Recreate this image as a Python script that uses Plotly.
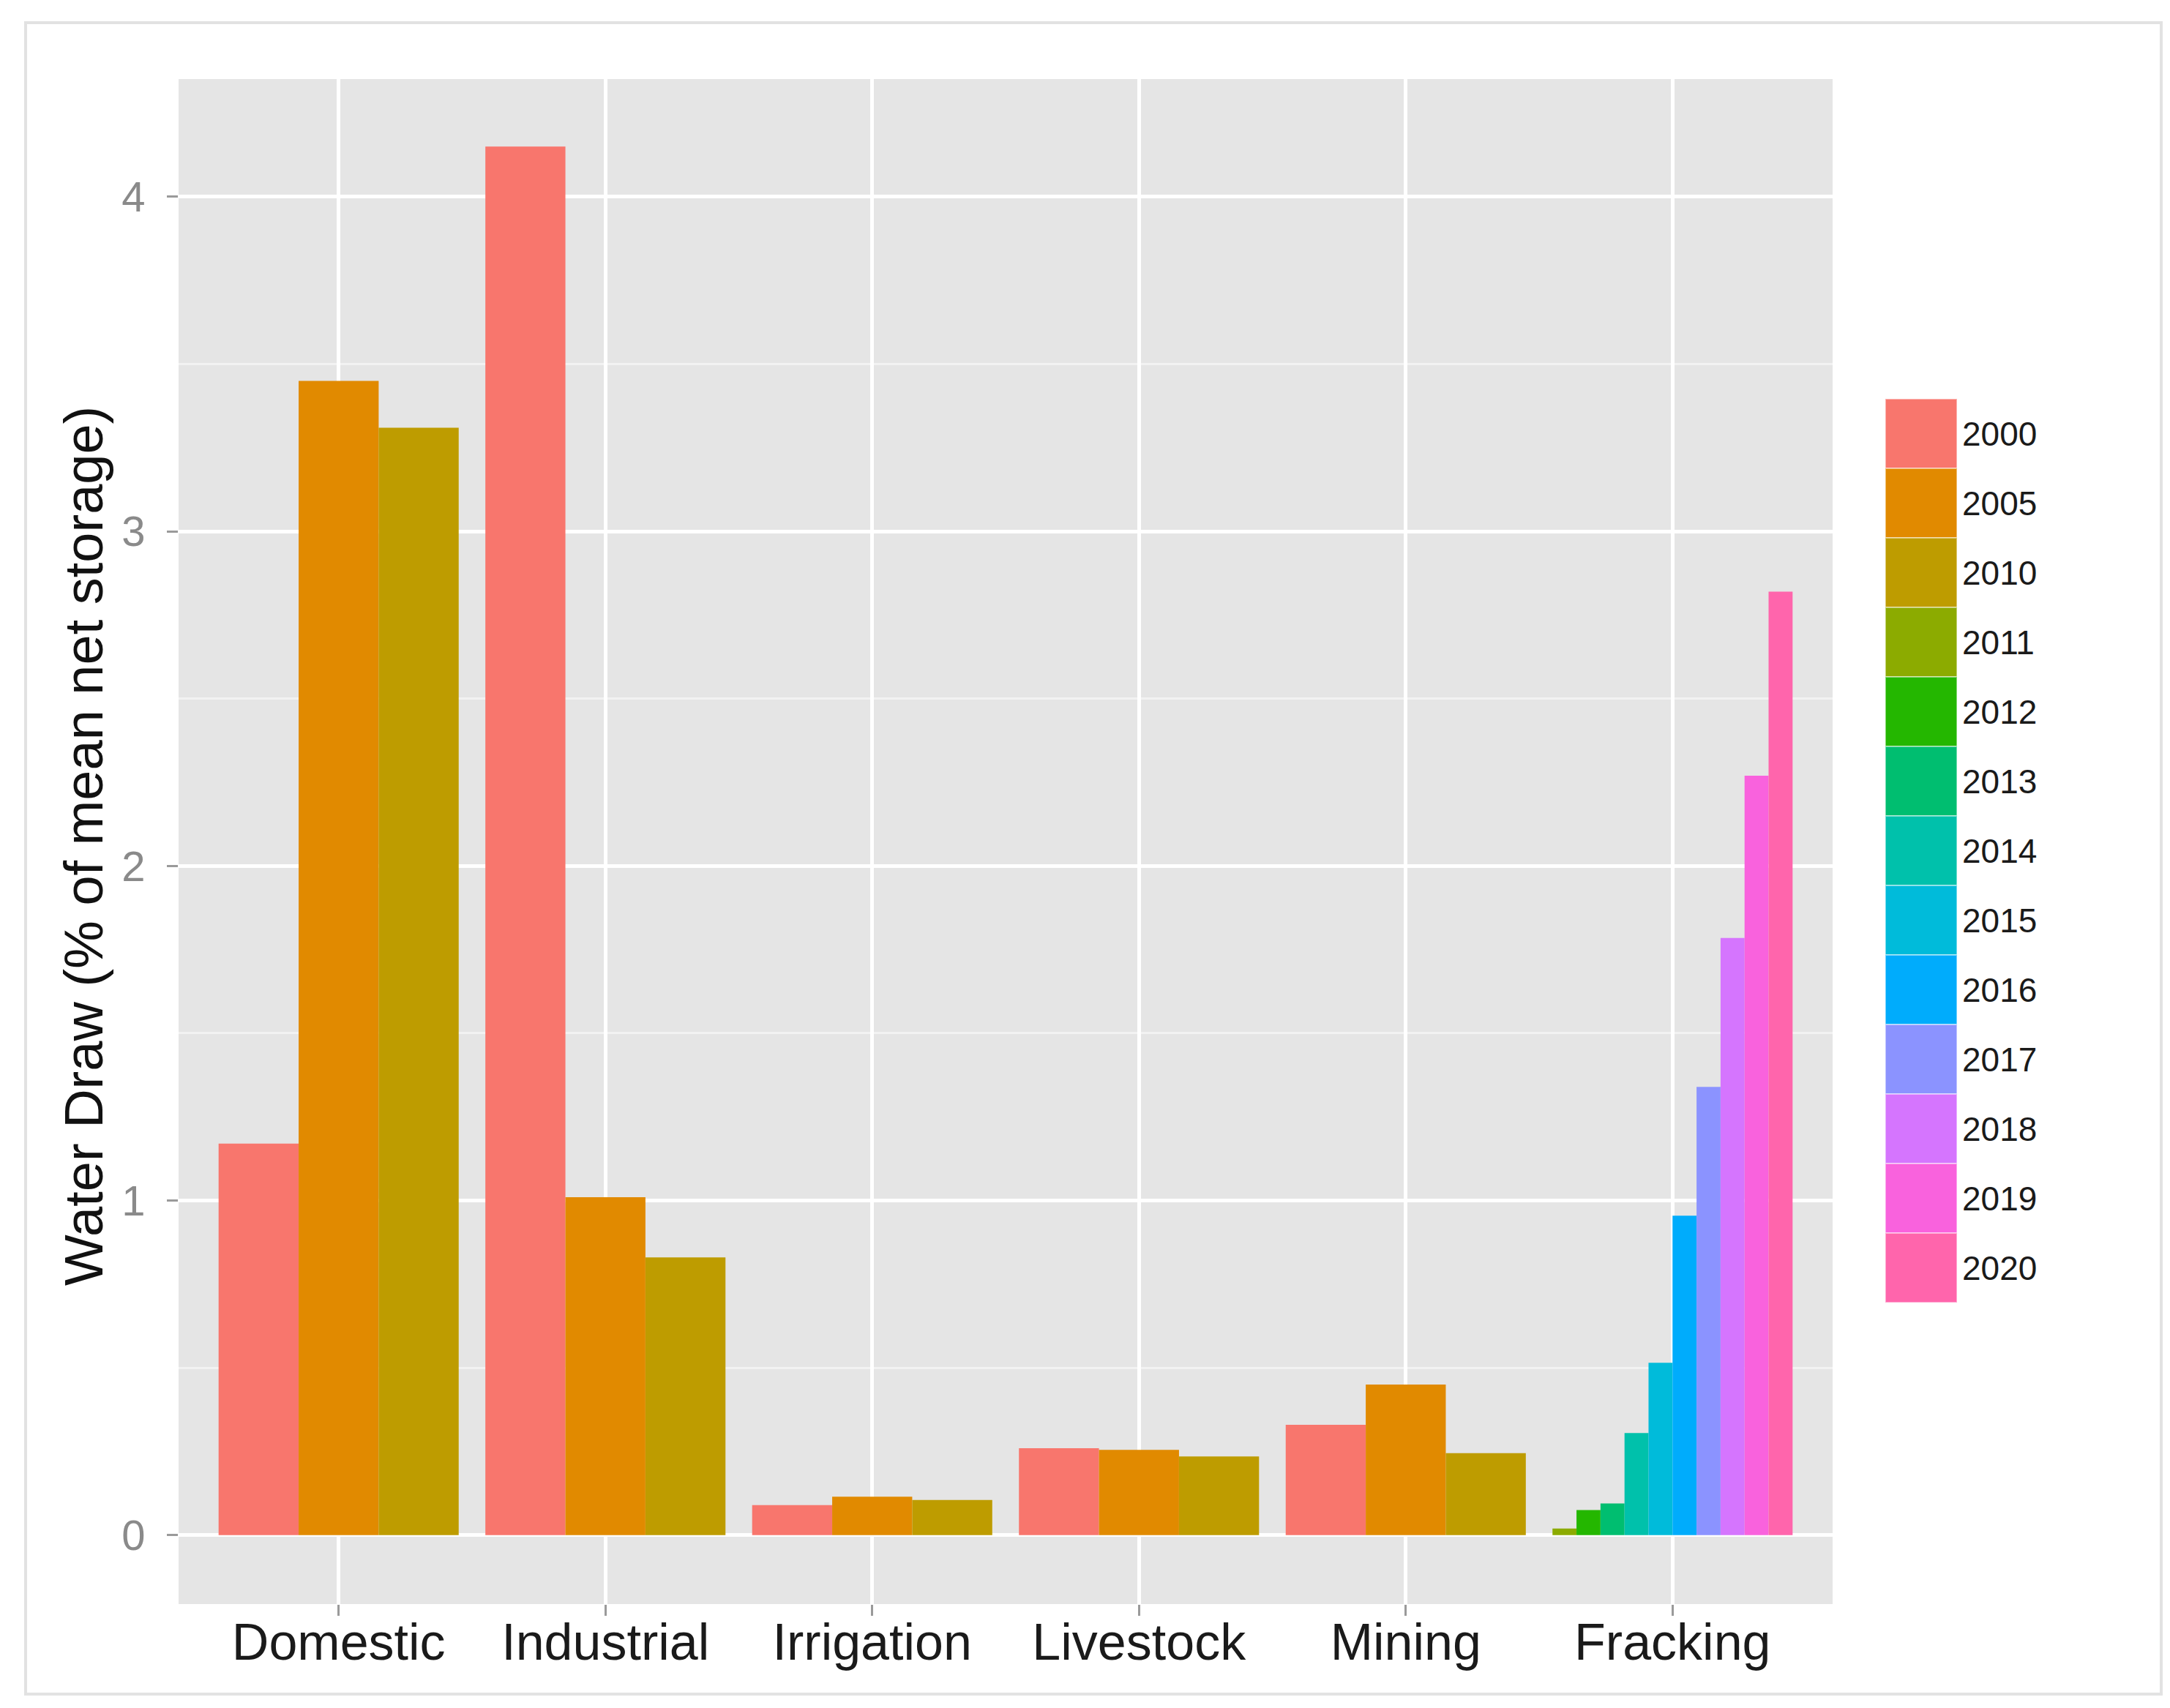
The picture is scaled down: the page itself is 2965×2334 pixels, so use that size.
import plotly.graph_objects as go

categories = ["Domestic", "Industrial", "Irrigation", "Livestock", "Mining", "Fracking"]
years = ["2000", "2005", "2010", "2011", "2012", "2013", "2014",
         "2015", "2016", "2017", "2018", "2019", "2020"]

# values for 2000, 2005, 2010
survey_years = ["2000", "2005", "2010"]
domestic = [1.17, 3.45, 3.31]
industrial = [4.15, 1.01, 0.83]
irrigation = [0.09, 0.115, 0.105]
livestock = [0.26, 0.255, 0.235]
mining = [0.33, 0.45, 0.245]

# fracking, yearly from 2011
fracking_years = ["2011", "2012", "2013", "2014", "2015",
                  "2016", "2017", "2018", "2019", "2020"]
fracking = [0.02, 0.075, 0.095, 0.305, 0.515, 0.955, 1.34, 1.785, 2.27, 2.82]

y_ticks = [0, 1, 2, 3, 4]

# ggplot default hue palette, 13 levels
colors = ["#F8766D", "#E18A00", "#BE9C00", "#8CAB00", "#24B700", "#00BE70", "#00C1AB",
          "#00BBDA", "#00ACFC", "#8B93FF", "#D575FE", "#F962DD", "#FF65AC"]

groups = {
    "Domestic": (survey_years, domestic),
    "Industrial": (survey_years, industrial),
    "Irrigation": (survey_years, irrigation),
    "Livestock": (survey_years, livestock),
    "Mining": (survey_years, mining),
    "Fracking": (fracking_years, fracking),
}

W, H = 2965, 2334
fig = go.Figure()

# dodge like ggplot: bars share 0.9 of each category between the years present
for i, yr in enumerate(years):
    xs, ys, ws, offs = [], [], [], []
    for cat in categories:
        yrs, vals = groups[cat]
        if yr in yrs:
            k = yrs.index(yr)
            w = 0.9 / len(yrs)
            xs.append(cat)
            ys.append(vals[k])
            ws.append(w)
            offs.append(-0.45 + k * w)
    fig.add_trace(go.Bar(x=xs, y=ys, width=ws, offset=offs,
                         marker_color=colors[i], marker_line_width=0,
                         showlegend=False, name=yr))

# legend drawn as a column of keys
fig.add_trace(go.Bar(x=[1] * len(years), y=years, orientation="h", width=1,
                     marker_color=colors, marker_line_color="rgba(255,255,255,0.45)",
                     marker_line_width=2, showlegend=False, hoverinfo="y",
                     xaxis="x2", yaxis="y2"))

fig.update_layout(
    width=W, height=H,
    margin=dict(l=0, r=0, t=0, b=0),
    paper_bgcolor="white",
    plot_bgcolor="#E5E5E5",
    barmode="overlay",
    font=dict(family="Liberation Sans, Arial, sans-serif"),
    xaxis=dict(domain=[236 / W, 2496 / W], type="category",
               categoryorder="array", categoryarray=categories,
               range=[-0.6, 5.6], showgrid=True, gridcolor="white", gridwidth=5,
               ticks="outside", ticklen=15, tickwidth=3, tickcolor="#9A9A9A",
               tickfont=dict(size=70, color="#1A1A1A"), ticklabelstandoff=-24,
               zeroline=False, showline=False, automargin=False),
    yaxis=dict(domain=[1 - 2184 / H, 1 - 100 / H], range=[-0.206, 4.352],
               tickvals=y_ticks, showgrid=True, gridcolor="white", gridwidth=5,
               minor=dict(dtick=0.5, tick0=0, showgrid=True,
                          gridcolor="#F2F2F2", gridwidth=2.5),
               ticks="outside", ticklen=15, tickwidth=3, tickcolor="#9A9A9A",
               tickfont=dict(size=58, color="#8A8A8A"), ticklabelstandoff=18,
               zeroline=False, showline=False, automargin=False),
    xaxis2=dict(domain=[2568 / W, 2666 / W], anchor="y2", range=[0, 1],
                visible=False),
    yaxis2=dict(domain=[1 - 1772 / H, 1 - 537 / H], anchor="x2", side="right",
                type="category", autorange="reversed", showgrid=False,
                ticks="", tickfont=dict(size=46, color="#1A1A1A"),
                ticklabelstandoff=6, zeroline=False, showline=False,
                automargin=False),
)

fig.add_annotation(text="Water Draw (% of mean net storage)", textangle=-90,
                   xref="paper", yref="paper", x=106 / W, y=1 - 1148 / H,
                   xanchor="center", yanchor="middle",
                   showarrow=False, font=dict(size=74, color="#111111"))

# thin frame around the figure
fig.add_shape(type="rect", xref="paper", yref="paper",
              x0=27 / W, x1=2945 / W, y0=1 - 2307 / H, y1=1 - 23 / H,
              line=dict(color="#E2E2E2", width=4), layer="below")

fig.write_html("out.html")
